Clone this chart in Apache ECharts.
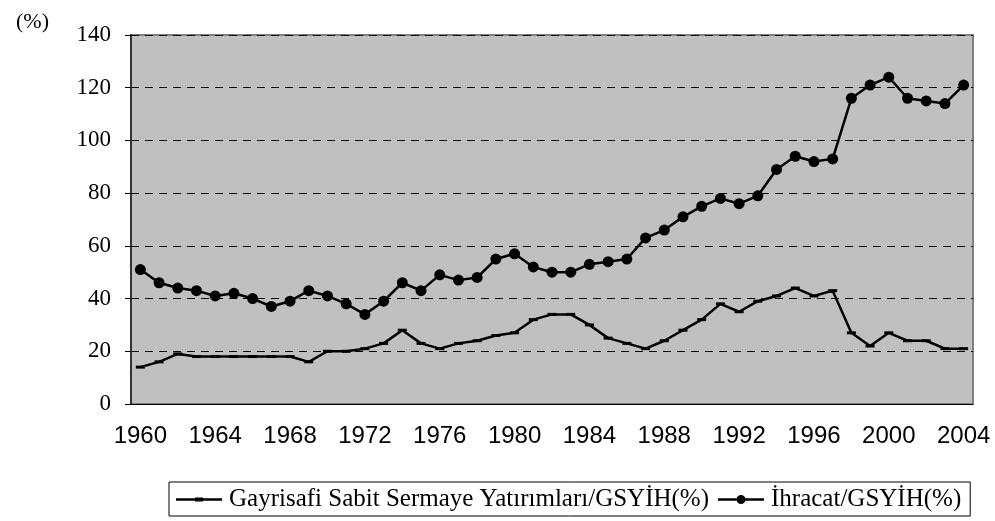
<!DOCTYPE html>
<html>
<head>
<meta charset="utf-8">
<script src="https://cdn.jsdelivr.net/npm/echarts@6/dist/echarts.min.js"></script>
<style>html,body{margin:0;padding:0;background:#fff;}#c{width:995px;height:521px;}</style>
</head>
<body>
<div id="c"></div>
<script>
const years = [];
for (let y = 1960; y <= 2004; y++) years.push(String(y));
const investment = [14,16,19,18,18,18,18,18,18,16,20,20,21,23,28,23,21,23,24,26,27,32,34,34,30,25,23,21,24,28,32,38,35,39,41,44,41,43,27,22,27,24,24,21,21];
const exports = [51,46,44,43,41,42,40,37,39,43,41,38,34,39,46,43,49,47,48,55,57,52,50,50,53,54,55,63,66,71,75,78,76,79,89,94,92,93,116,121,124,116,115,114,121];
const seriesNames = ['Gayrisafi Sabit Sermaye Yatırımları/GSYİH(%)', 'İhracat/GSYİH(%)'];
const yTicks = {min: 0, max: 140, interval: 20};

const chart = echarts.init(document.getElementById('c'));
chart.setOption({
  animation: false,
  backgroundColor: '#ffffff',
  title: {
    text: '(%)', left: 11, top: 6,
    textStyle: {fontFamily: 'Liberation Serif', fontSize: 22, fontWeight: 'normal', color: '#000'}
  },
  grid: {
    left: 131, right: 22, top: 35, bottom: 117,
    show: true, backgroundColor: '#c0c0c0', borderColor: '#808080', borderWidth: 2
  },
  legend: {
    left: 169, top: 482,
    padding: [5, 9, 4, 7],
    itemGap: 9, itemWidth: 46, itemHeight: 10,
    borderColor: '#000', borderWidth: 1,
    textStyle: {fontFamily: 'Liberation Serif', fontSize: 25, color: '#000', padding: [0, 0, 0, 2]},
    data: [
      {name: seriesNames[0], icon: 'path://M0,3.8h46v2.4H0z M19,3h8v4h-8z'},
      {name: seriesNames[1], icon: 'path://M0,3.8h18.6v2.4H0z M27.4,3.8h18.6v2.4H27.4z M18.5,5a4.5,4.5 0 1,1 9,0a4.5,4.5 0 1,1 -9,0z'}
    ]
  },
  xAxis: {
    type: 'category', data: years, boundaryGap: true,
    axisLine: {lineStyle: {color: '#000', width: 1}},
    axisTick: {interval: 0, length: 6, lineStyle: {color: '#000'}},
    axisLabel: {interval: 3, margin: 20, fontFamily: 'Liberation Sans', fontSize: 24, color: '#000'}
  },
  yAxis: {
    type: 'value', min: yTicks.min, max: yTicks.max, interval: yTicks.interval,
    axisLine: {show: true, lineStyle: {color: '#333', width: 2}},
    axisTick: {show: true, length: 6, lineStyle: {color: '#000'}},
    axisLabel: {margin: 20, fontFamily: 'Liberation Serif', fontSize: 23, color: '#000'},
    splitLine: {show: true, lineStyle: {color: '#000', type: [8, 6], width: 1}}
  },
  series: [
    {
      name: seriesNames[0], type: 'line', data: investment,
      symbol: 'rect', symbolSize: [9, 3],
      itemStyle: {color: '#000'}, lineStyle: {color: '#000', width: 2.5}
    },
    {
      name: seriesNames[1], type: 'line', data: exports,
      symbol: 'circle', symbolSize: 11,
      itemStyle: {color: '#000'}, lineStyle: {color: '#000', width: 2.5}
    }
  ]
});
</script>
</body>
</html>
